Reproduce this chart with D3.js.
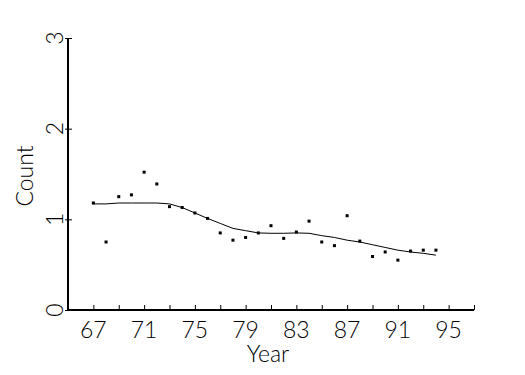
<!DOCTYPE html>
<html>
<head>
<meta charset="utf-8">
<script src="https://cdn.jsdelivr.net/npm/d3@7"></script>
<style>
  body { margin: 0; background: #fff; }
  text { font-family: Lato, "Liberation Sans", sans-serif; font-weight: 300; fill: #000; }
</style>
</head>
<body>
<svg id="chart" width="525" height="375"></svg>
<script>
const years = [67, 68, 69, 70, 71, 72, 73, 74, 75, 76, 77, 78, 79, 80,
  81, 82, 83, 84, 85, 86, 87, 88, 89, 90, 91, 92, 93, 94];
const counts = [1.18, 0.75, 1.25, 1.27, 1.52, 1.39, 1.14, 1.13, 1.07, 1.01, 0.85, 0.77, 0.80, 0.85,
  0.93, 0.79, 0.86, 0.98, 0.75, 0.71, 1.04, 0.76, 0.59, 0.64, 0.55, 0.65, 0.66, 0.66];
const smooth = [1.17, 1.17, 1.18, 1.18, 1.18, 1.18, 1.17, 1.13, 1.07, 1.01, 0.955, 0.90, 0.875, 0.85,
  0.846, 0.846, 0.85, 0.846, 0.82, 0.80, 0.77, 0.75, 0.72, 0.69, 0.66, 0.64, 0.625, 0.605];
const xTicks = [65, 67, 69, 71, 73, 75, 77, 79, 81, 83, 85, 87, 89, 91, 93, 95, 97];
const xLabels = [67, 71, 75, 79, 83, 87, 91, 95];
const yTicks = [0, 1, 2, 3];

const svg = d3.select("#chart");
const margin = {top: 38, right: 51, bottom: 65, left: 68};
const width = 525 - margin.left - margin.right;
const height = 375 - margin.top - margin.bottom;
const g = svg.append("g").attr("transform", `translate(${margin.left},${margin.top})`);

const x = d3.scaleLinear().domain([65, 97]).range([0, width]);
const y = d3.scaleLinear().domain([0, 3]).range([height, 0]);

// x axis: ticks point inward, labels on every other tick
const xAxis = g.append("g")
  .attr("transform", `translate(0,${height})`)
  .call(d3.axisBottom(x).tickValues(xTicks).tickSize(-5).tickFormat(""));
xAxis.select(".domain").attr("stroke-width", 2).attr("d", `M0,0H${width}`);

g.selectAll(".xlab")
  .data(xLabels)
  .enter().append("text")
  .attr("class", "xlab")
  .attr("x", d => x(d))
  .attr("y", height + 28)
  .attr("text-anchor", "middle")
  .attr("font-size", 23)
  .text(d => d);

// y axis: ticks cross the line, labels rotated
const yAxis = g.append("g")
  .call(d3.axisLeft(y).tickValues(yTicks).tickSize(3).tickFormat(""));
yAxis.select(".domain").attr("stroke-width", 2).attr("d", `M0,0V${height}`);
yAxis.selectAll(".tick line").attr("x1", 4);

g.selectAll(".ylab")
  .data(yTicks)
  .enter().append("text")
  .attr("class", "ylab")
  .attr("transform", d => `translate(-5,${y(d)}) rotate(-90)`)
  .attr("text-anchor", "middle")
  .attr("font-size", 23)
  .text(d => d);

g.append("text")
  .attr("x", width / 2 - 3)
  .attr("y", height + 52)
  .attr("text-anchor", "middle")
  .attr("font-size", 23)
  .text("Year");

g.append("text")
  .attr("transform", `translate(-35,${y(1.5) + 2}) rotate(-90)`)
  .attr("text-anchor", "middle")
  .attr("font-size", 23)
  .text("Count");

// smoothed fit
const line = d3.line()
  .x((d, i) => x(years[i]))
  .y(d => y(d));

g.append("path")
  .datum(smooth)
  .attr("fill", "none")
  .attr("stroke", "#000")
  .attr("stroke-width", 1)
  .attr("d", line);

// observed points
g.selectAll(".pt")
  .data(counts)
  .enter().append("rect")
  .attr("class", "pt")
  .attr("x", (d, i) => x(years[i]) - 1.5)
  .attr("y", d => y(d) - 1.5)
  .attr("width", 3)
  .attr("height", 3)
  .attr("fill", "#000");
</script>
</body>
</html>
